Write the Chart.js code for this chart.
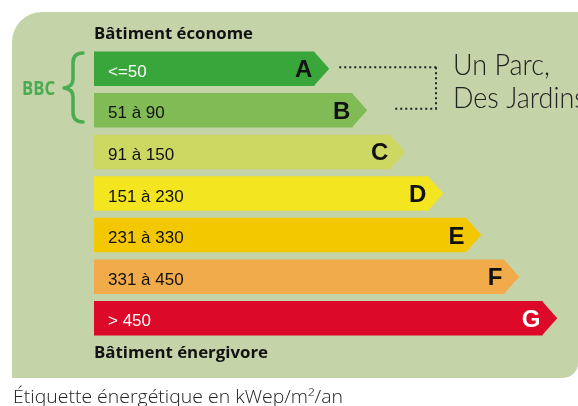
<!DOCTYPE html>
<html lang="fr">
<head>
<meta charset="UTF-8">
<title>Étiquette énergétique</title>
<script src="https://cdn.jsdelivr.net/npm/chart.js@4.4.0/dist/chart.umd.min.js"></script>
<style>
  html, body { margin: 0; padding: 0; background: #fff; }
  #wrap { width: 578px; height: 406px; }
</style>
</head>
<body>
<div id="wrap"><canvas id="label" width="578" height="406"></canvas></div>
<script>
// energy classes, consumption ranges (kWep/m2/an) and bar lengths (arbitrary units)
const classes = ['A', 'B', 'C', 'D', 'E', 'F', 'G'];
const ranges = ['<=50', '51 à 90', '91 à 150', '151 à 230', '231 à 330', '331 à 450', '> 450'];
const barLengths = [58, 68, 78, 88, 98, 108, 118];

const barColors = ['#39a63c', '#80bb56', '#cdd862', '#f3e520', '#f4c800', '#f1ab4a', '#dc0928'];
const textColors = ['#fff', '#111', '#111', '#111', '#111', '#111', '#fff'];
const letterColors = ['#111', '#111', '#111', '#111', '#111', '#111', '#fff'];

// draw text squeezed/stretched horizontally by factor sx
function scaledText(ctx, text, x, y, sx) {
  ctx.save();
  ctx.translate(x, y);
  ctx.scale(sx, 1);
  ctx.fillText(text, 0, 0);
  ctx.restore();
}
function fitText(ctx, text, x, y, w) {
  const sx = w / ctx.measureText(text).width;
  scaledText(ctx, text, x, y, sx);
  return sx;
}

const labelPlugin = {
  id: 'energyLabel',
  beforeDraw(chart) {
    const ctx = chart.ctx;
    ctx.save();
    ctx.fillStyle = '#fff';
    ctx.fillRect(0, 0, chart.width, chart.height);
    // green panel
    ctx.fillStyle = '#c5d3a9';
    ctx.beginPath();
    ctx.moveTo(12, 42);
    ctx.arcTo(12, 12, 42, 12, 30);
    ctx.lineTo(578, 12);
    ctx.lineTo(578, 363);
    ctx.arcTo(578, 378, 563, 378, 15);
    ctx.lineTo(12, 378);
    ctx.closePath();
    ctx.fill();
    ctx.restore();
  },
  afterDatasetsDraw(chart) {
    const ctx = chart.ctx;
    const area = chart.chartArea;
    const bars = chart.getDatasetMeta(0).data;
    ctx.save();
    bars.forEach((bar, i) => {
      const h = bar.height;
      const top = bar.y - h / 2;
      const tip = h * 0.43;
      // arrow point
      ctx.fillStyle = barColors[i];
      ctx.beginPath();
      ctx.moveTo(bar.x - 0.5, top);
      ctx.lineTo(bar.x + tip, bar.y);
      ctx.lineTo(bar.x - 0.5, top + h);
      ctx.closePath();
      ctx.fill();
      // range
      ctx.font = '17px "Liberation Sans", Arial, sans-serif';
      ctx.textAlign = 'left';
      ctx.textBaseline = 'alphabetic';
      ctx.fillStyle = textColors[i];
      ctx.fillText(ranges[i], area.left + 14, bar.y + 8);
      // class letter
      ctx.font = 'bold 24px "Liberation Sans", Arial, sans-serif';
      ctx.textAlign = 'right';
      ctx.fillStyle = letterColors[i];
      ctx.fillText(classes[i], bar.x - 2, bar.y + 8.5);
    });

    // headings
    ctx.textAlign = 'left';
    ctx.fillStyle = '#111';
    ctx.font = 'bold 16px "Open Sans", sans-serif';
    fitText(ctx, 'Bâtiment économe', area.left, 39, 159);
    fitText(ctx, 'Bâtiment énergivore', area.left, 358, 174);

    // footer
    ctx.fillStyle = '#222';
    ctx.font = '300 18px "Open Sans", sans-serif';
    fitText(ctx, 'Étiquette énergétique en kWep/m²/an', 13, 403, 330);

    // BBC brace
    ctx.fillStyle = '#4aac50';
    ctx.font = 'bold 19px "Open Sans", sans-serif';
    fitText(ctx, 'BBC', 22, 95, 33);
    ctx.strokeStyle = '#4aac50';
    ctx.lineWidth = 3.5;
    ctx.lineCap = 'round';
    ctx.lineJoin = 'round';
    ctx.beginPath();
    ctx.moveTo(83, 53);
    ctx.quadraticCurveTo(73, 53, 73, 63);
    ctx.lineTo(73, 79);
    ctx.quadraticCurveTo(73, 87, 64, 88);
    ctx.quadraticCurveTo(73, 89, 73, 97);
    ctx.lineTo(73, 112);
    ctx.quadraticCurveTo(73, 122, 83, 122);
    ctx.stroke();

    // dotted leaders to the project name
    const a = bars[0], b = bars[1];
    const tipA = a.x + a.height * 0.43, tipB = b.x + b.height * 0.43;
    const yA = a.y - 1.5, yB = b.y - 1.5, xv = 437;
    ctx.strokeStyle = '#222';
    ctx.lineWidth = 2;
    ctx.lineCap = 'butt';
    ctx.lineJoin = 'miter';
    ctx.setLineDash([2, 3]);
    ctx.beginPath();
    ctx.moveTo(tipA + 10, yA); ctx.lineTo(xv, yA);
    ctx.moveTo(xv - 1, yA); ctx.lineTo(xv - 1, yB);
    ctx.moveTo(tipB + 28, yB); ctx.lineTo(xv, yB);
    ctx.stroke();
    ctx.setLineDash([]);

    // project name
    ctx.fillStyle = '#222';
    ctx.font = '300 29px Lato, "Open Sans", sans-serif';
    const sx = fitText(ctx, 'Un Parc,', 453, 75, 97);
    scaledText(ctx, 'Des Jardins', 453, 108, sx);
    ctx.restore();
  }
};

new Chart(document.getElementById('label'), {
  type: 'bar',
  data: {
    labels: classes,
    datasets: [{
      data: barLengths,
      backgroundColor: barColors,
      borderWidth: 0,
      barPercentage: 1,
      categoryPercentage: 0.83
    }]
  },
  options: {
    indexAxis: 'y',
    responsive: false,
    animation: false,
    devicePixelRatio: 1,
    layout: { padding: { left: 94, right: 28, top: 48, bottom: 67 } },
    scales: {
      x: { display: false, min: 0, max: 120 },
      y: { display: false }
    },
    plugins: {
      legend: { display: false },
      tooltip: { enabled: false }
    }
  },
  plugins: [labelPlugin]
});
</script>
</body>
</html>
